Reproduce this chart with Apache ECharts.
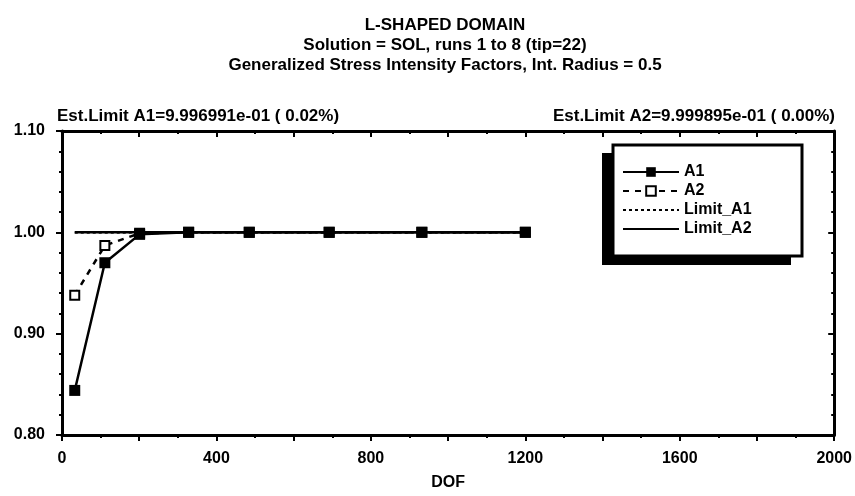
<!DOCTYPE html>
<html>
<head>
<meta charset="utf-8">
<script src="https://cdn.jsdelivr.net/npm/echarts@6/dist/echarts.min.js"></script>
<style>
html,body{margin:0;padding:0;background:#fff;}
#chart{width:855px;height:496px;}
</style>
</head>
<body>
<div id="chart"></div>
<script>
// ---- data ----
const dof = [33, 111, 201, 328, 485, 692, 932, 1200];
const a1 = [0.844, 0.970, 0.998, 1.000, 1.000, 1.000, 1.000, 1.000];
const a2 = [0.938, 0.987, 0.999, 1.000, 1.000, 1.000, 1.000, 1.000];
const limitA1 = 0.9996991;
const limitA2 = 0.9999895;
const titles = [
  'L-SHAPED DOMAIN',
  'Solution = SOL, runs 1 to 8 (tip=22)',
  'Generalized Stress Intensity Factors, Int. Radius = 0.5'
];
const estA1 = 'Est.Limit A1=9.996991e-01 ( 0.02%)';
const estA2 = 'Est.Limit A2=9.999895e-01 ( 0.00%)';
const xTitle = 'DOF';
const seriesNames = ['A1', 'A2', 'Limit_A1', 'Limit_A2'];

const FONT = '"Liberation Sans", Arial, sans-serif';
const pair = (xs, ys) => xs.map((x, i) => [x, ys[i]]);
const limitLine = v => [[dof[0], v], [dof[dof.length - 1], v]];

const chart = echarts.init(document.getElementById('chart'), null, {renderer: 'canvas'});

const tStyle = {fontFamily: FONT, fontWeight: 'bold', fontSize: 17, color: '#000'};
const lblStyle = {fontFamily: FONT, fontWeight: 'bold', fontSize: 16, color: '#000'};

const xBase = {
  type: 'value', min: 0, max: 2000, interval: 200,
  axisLine: {show: true, onZero: false, lineStyle: {color: '#000', width: 3}},
  splitLine: {show: false},
  minorTick: {show: true, splitNumber: 2, length: 3, lineStyle: {color: '#000', width: 2}},
  axisTick: {show: true, length: 6, lineStyle: {color: '#000', width: 2}}
};
const yBase = {
  type: 'value', min: 0.8, max: 1.1, interval: 0.1,
  axisLine: {show: true, onZero: false, lineStyle: {color: '#000', width: 3}},
  splitLine: {show: false},
  minorTick: {show: true, splitNumber: 5, length: 3, lineStyle: {color: '#000', width: 2}},
  axisTick: {show: true, length: 6, lineStyle: {color: '#000', width: 2}}
};
const hiddenSym = {color: 'transparent', borderColor: 'transparent', borderWidth: 0};

chart.setOption({
  animation: false,
  backgroundColor: '#fff',
  title: [
    {text: titles[0], left: 440, textAlign: 'center', top: 12, textStyle: tStyle},
    {text: titles[1], left: 440, textAlign: 'center', top: 32, textStyle: tStyle},
    {text: titles[2], left: 440, textAlign: 'center', top: 52, textStyle: tStyle},
    {text: estA1, left: 52, top: 103, textStyle: tStyle},
    {text: estA2, right: 15, top: 103, textStyle: tStyle}
  ],
  grid: {left: 62, right: 18, top: 131, bottom: 59, containLabel: false},
  xAxis: [
    Object.assign({}, xBase, {
      position: 'bottom',
      name: xTitle, nameLocation: 'middle', nameGap: 40,
      nameTextStyle: lblStyle,
      axisLabel: Object.assign({margin: 16, formatter: v => (v % 400 === 0 ? String(v) : '')}, lblStyle)
    }),
    Object.assign({}, xBase, {
      position: 'top', axisLabel: {show: false},
      axisTick: {show: true, inside: true, length: 6, lineStyle: {color: '#000', width: 2}}
    })
  ],
  yAxis: [
    Object.assign({}, yBase, {
      position: 'left',
      axisLabel: Object.assign({margin: 17, formatter: v => v.toFixed(2)}, lblStyle)
    }),
    Object.assign({}, yBase, {
      position: 'right', axisLabel: {show: false},
      axisTick: {show: true, inside: true, length: 6, lineStyle: {color: '#000', width: 2}}
    })
  ],
  legend: {
    orient: 'vertical', left: 617, top: 159, itemGap: 3, z: 20,
    itemWidth: 56, itemHeight: 12,
    data: [
      {name: seriesNames[0]},
      {name: seriesNames[1]},
      {name: seriesNames[2], itemStyle: hiddenSym},
      {name: seriesNames[3], itemStyle: hiddenSym}
    ],
    textStyle: lblStyle,
    selectedMode: false
  },
  graphic: [
    {type: 'rect', shape: {x: 602, y: 153, width: 189, height: 112}, style: {fill: '#000'}, z: 1},
    {type: 'rect', shape: {x: 613, y: 145, width: 189, height: 111},
     style: {fill: '#fff', stroke: '#000', lineWidth: 3}, z: 2}
  ],
  series: [
    {name: seriesNames[2], type: 'line', data: limitLine(limitA1), symbol: 'none', z: 2,
     lineStyle: {color: '#000', width: 2, type: [3, 3]}, itemStyle: {color: '#000'}},
    {name: seriesNames[3], type: 'line', data: limitLine(limitA2), symbol: 'none', z: 2,
     lineStyle: {color: '#000', width: 2.5, type: 'solid'}, itemStyle: {color: '#000'}},
    {name: seriesNames[0], type: 'line', data: pair(dof, a1), symbol: 'rect', symbolSize: 11, z: 4,
     lineStyle: {color: '#000', width: 2.5}, itemStyle: {color: '#000'}},
    {name: seriesNames[1], type: 'line', data: pair(dof, a2), symbol: 'emptyRect', symbolSize: 9, z: 3,
     lineStyle: {color: '#000', width: 2.5, type: [6, 6]}, itemStyle: {color: '#000', borderWidth: 2}}
  ]
});
</script>
</body>
</html>
